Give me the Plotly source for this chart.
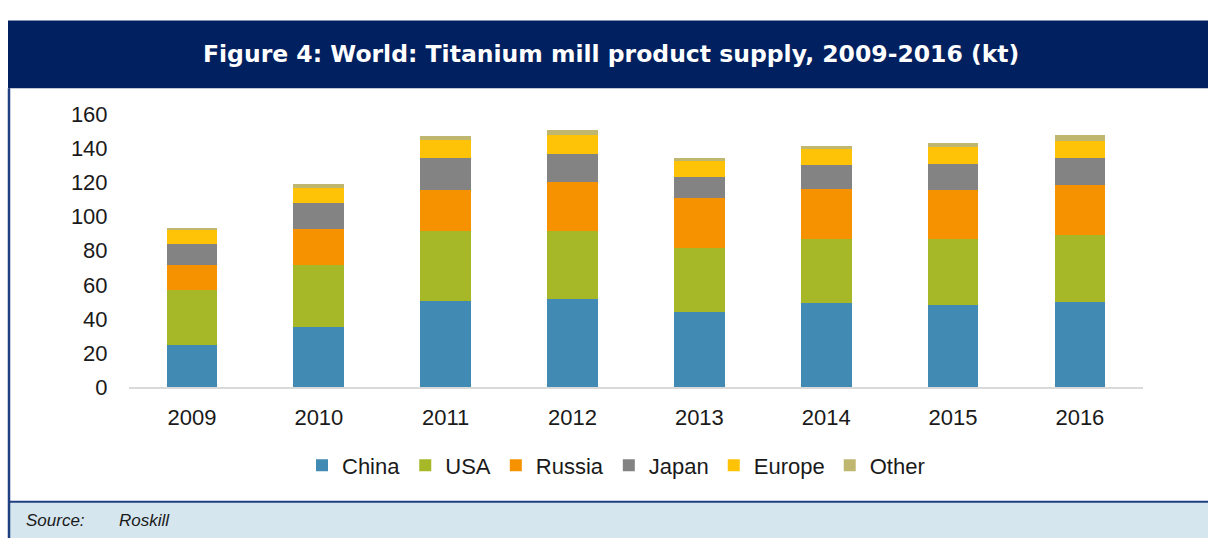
import plotly.graph_objects as go

years = ["2009", "2010", "2011", "2012", "2013", "2014", "2015", "2016"]
china = [25.0, 35.4, 50.7, 51.5, 44.4, 49.4, 48.5, 49.8]
usa = [31.8, 36.2, 40.8, 40.0, 37.1, 37.5, 38.2, 39.2]
russia = [14.8, 21.3, 23.9, 28.9, 29.6, 29.5, 28.7, 29.4]
japan = [12.1, 14.9, 19.2, 16.3, 12.3, 13.9, 15.3, 16.0]
europe = [8.4, 8.7, 10.1, 10.8, 9.2, 9.2, 9.9, 10.1]
other = [1.1, 2.4, 2.6, 3.0, 1.8, 1.8, 2.8, 3.0]

series = [
    ("China", china, "#418ab3"),
    ("USA", usa, "#a6b727"),
    ("Russia", russia, "#f69200"),
    ("Japan", japan, "#838383"),
    ("Europe", europe, "#fec306"),
    ("Other", other, "#bfb76f"),
]

W, H = 1208, 551
navy = "#002060"

fig = go.Figure()
for name, vals, col in series:
    fig.add_trace(go.Bar(x=years, y=vals, name=name, marker_color=col,
                         marker_line_width=0))

shapes = [
    # header band
    dict(type="rect", xref="paper", yref="paper", x0=8 / W, x1=1, y0=1 - 80 / H, y1=1 - 9 / H,
         fillcolor=navy, line_width=0, layer="below"),
    # source band
    dict(type="rect", xref="paper", yref="paper", x0=8 / W, x1=1, y0=0, y1=1 - 513 / H,
         fillcolor="#d6e6ef", line_width=0, layer="below"),
    dict(type="line", xref="paper", yref="paper", x0=8 / W, x1=1, y0=1 - 513 / H, y1=1 - 513 / H,
         line=dict(color="#1f3f80", width=2)),
    # left frame line
    dict(type="line", xref="paper", yref="paper", x0=9 / W, x1=9 / W, y0=0, y1=1 - 80 / H,
         line=dict(color="#1f3f80", width=2.5)),
]

fig.update_layout(
    width=W, height=H,
    margin=dict(l=0, r=0, t=0, b=0),
    paper_bgcolor="white", plot_bgcolor="white",
    barmode="stack", bargap=0.6,
    font=dict(family="Liberation Sans, Arial, sans-serif", size=22, color="#1a1a1a"),
    shapes=shapes,
    showlegend=True,
    legend=dict(orientation="h", x=616 / W, xanchor="center", y=1 - 475 / H, yanchor="middle",
                font=dict(size=22, color="#1a1a1a"), itemwidth=30, traceorder="normal",
                bgcolor="rgba(0,0,0,0)"),
    xaxis=dict(domain=[128.6 / W, 1143.3 / W], showline=True, linecolor="#d9d9d9", linewidth=1.5,
               ticks="", showgrid=False, ticklabelstandoff=9, fixedrange=True),
    yaxis=dict(domain=[1 - 393.3 / H, 1 - 107 / H], range=[0, 160], dtick=20, showgrid=False,
               zeroline=False, showline=False, ticks="", ticklabelstandoff=20, fixedrange=True),
    annotations=[
        dict(text="<b>Figure 4: World: Titanium mill product supply, 2009-2016 (kt)</b>",
             xref="paper", yref="paper", x=611 / W, y=1 - 44 / H, xanchor="center", yanchor="middle",
             showarrow=False, font=dict(family="DejaVu Sans, Verdana, sans-serif", size=23.5, color="white")),
        dict(text="<i>Source:</i>", xref="paper", yref="paper", x=24 / W, y=1 - 533 / H,
             xanchor="left", yanchor="middle", showarrow=False,
             font=dict(size=17, color="#1a1a1a")),
        dict(text="<i>Roskill</i>", xref="paper", yref="paper", x=117 / W, y=1 - 533 / H,
             xanchor="left", yanchor="middle", showarrow=False,
             font=dict(size=17, color="#1a1a1a")),
    ],
)

fig.write_html("out.html", config={"displayModeBar": False},
               post_script="document.body.style.margin='0';document.body.style.overflow='hidden';")
